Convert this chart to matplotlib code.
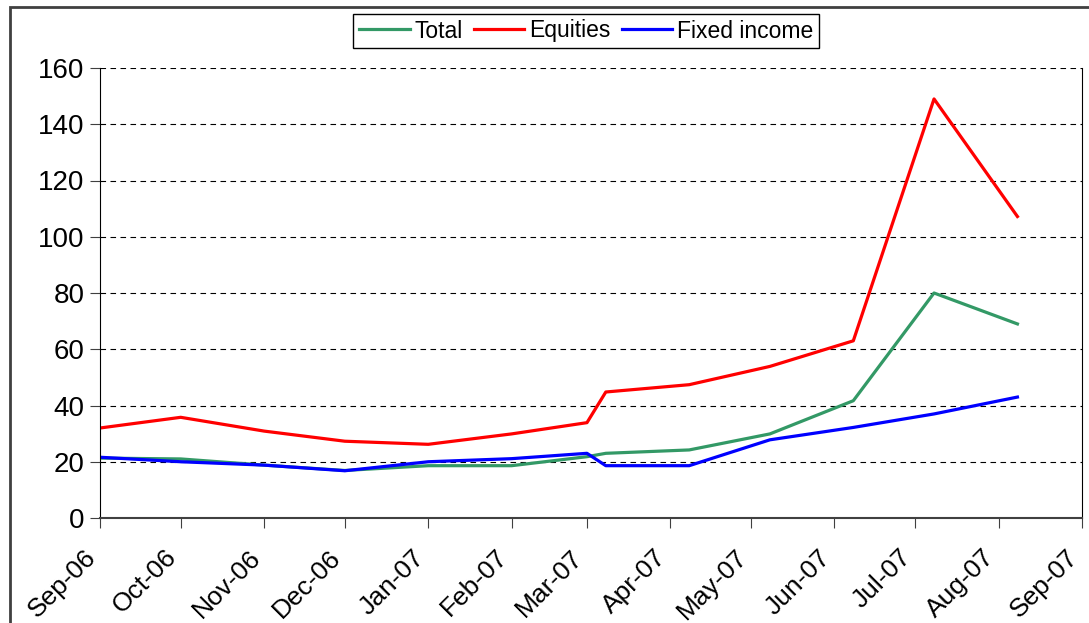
import numpy as np
import pandas as pd
import matplotlib
matplotlib.use("Agg")
import matplotlib.pyplot as plt
import matplotlib.dates as mdates
import matplotlib.transforms as mtransforms
from matplotlib.patches import Rectangle

plt.rcParams['font.family'] = ['Liberation Sans', 'DejaVu Sans']

# observation dates (monthly, then shifted to the 8th from March on)
dates = pd.to_datetime(['2006-09-01', '2006-10-01', '2006-11-01', '2006-12-01',
                        '2007-01-01', '2007-02-01', '2007-03-01', '2007-03-08',
                        '2007-04-08', '2007-05-08', '2007-06-08', '2007-07-08',
                        '2007-08-08'])

total = [21.3, 21.0, 18.8, 16.9, 18.6, 18.6, 21.8, 23.0, 24.2, 29.9, 41.7, 80.0, 69.0]
equities = [32.0, 35.8, 30.9, 27.3, 26.2, 29.9, 33.9, 44.8, 47.4, 53.9, 63.0, 149.0, 107.2]
fixed_income = [21.6, 20.0, 18.8, 16.8, 20.0, 21.1, 23.0, 18.6, 18.6, 27.8, 32.2, 37.0, 43.0]

fig = plt.figure(figsize=(10.89, 6.23), dpi=100)
ax = fig.add_axes([100 / 1089, 1 - 518 / 623, 982 / 1089, 450 / 623])

ax.plot(dates, total, color='#339966', lw=2.3, label='Total')
ax.plot(dates, equities, color='#ff0000', lw=2.3, label='Equities')
ax.plot(dates, fixed_income, color='#0000ff', lw=2.3, label='Fixed income')

ax.set_ylim(0, 160)
ax.set_yticks(range(0, 161, 20))
ax.set_xlim(pd.Timestamp('2006-09-01'), pd.Timestamp('2007-09-01'))
ax.xaxis.set_major_locator(mdates.MonthLocator())
ax.xaxis.set_major_formatter(mdates.DateFormatter('%b-%y'))

ax.grid(axis='y', color='black', linestyle=(0, (5, 4)), lw=0.8)
ax.spines['top'].set_visible(False)
ax.spines['left'].set_color('black')
ax.spines['right'].set_color('black')
ax.spines['bottom'].set_color('#404040')
ax.spines['bottom'].set_linewidth(1.5)
ax.tick_params(axis='y', labelsize=20, length=7, color='#404040', pad=4)
ax.tick_params(axis='x', labelsize=19, length=7, color='#404040', pad=6)
shift = mtransforms.ScaledTranslation(-16 / 100, -9 / 100, fig.dpi_scale_trans)
for lab in ax.get_xticklabels():
    lab.set_rotation(45)
    lab.set_ha('right')
    lab.set_va('top')
    lab.set_rotation_mode('anchor')
    lab.set_transform(lab.get_transform() + shift)

fig.legend(loc='center', bbox_to_anchor=(586 / 1089, 1 - 31 / 623), ncol=3,
           fontsize=16.5, frameon=True, fancybox=False, edgecolor='black',
           framealpha=1, handlelength=2.2, handletextpad=0.2,
           columnspacing=0.5, borderpad=0.25)

# outer chart frame
fig.patches.append(Rectangle((10 / 1089, -0.1), 1.2, 1.1 - 7 / 623,
                             transform=fig.transFigure, fill=False,
                             edgecolor='#404040', lw=2))

fig.savefig('out.png', dpi=100)
